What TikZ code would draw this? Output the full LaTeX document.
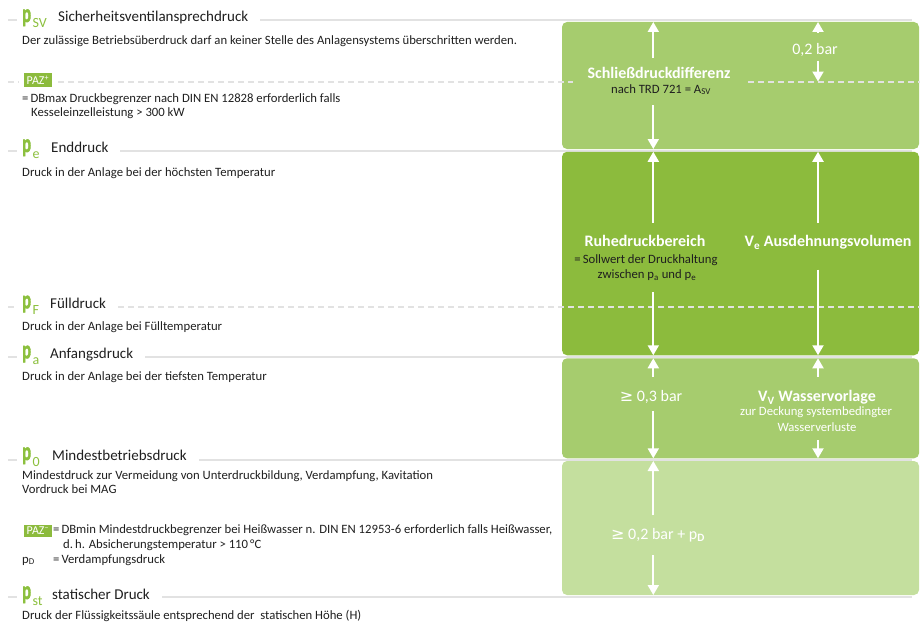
\documentclass[tikz,border=0pt]{standalone}
\usepackage{fontspec}
\setmainfont{Carlito}
\newfontfamily\zeichenfont{DejaVu Sans}
\newfontfamily\dickfont[FakeBold=2]{Carlito}
\usepackage{graphicx}
\usetikzlibrary{arrows.meta,positioning}

\definecolor{gruenHell}{HTML}{A6CC6E}
\definecolor{gruenDunkel}{HTML}{8CBB3D}
\definecolor{gruenBlass}{HTML}{C4DF9E}
\definecolor{gruenSym}{HTML}{8CC03E}
\definecolor{grau}{HTML}{E2E2E2}
\definecolor{schrift}{HTML}{1F1F1F}

\newcommand{\druckp}[1]{\textcolor{gruenSym}{\scalebox{0.65}[1]{\fontsize{25.5}{25.5}\dickfont\bfseries p}\kern1.5pt\raisebox{-6pt}{\fontsize{14}{14}\selectfont #1}}}
\newcommand{\pazbox}[1]{{\setlength{\fboxsep}{2.5pt}\colorbox{gruenDunkel}{\textcolor{white}{\fontsize{12}{12}\selectfont PAZ\textsuperscript{#1}}}}}

\tikzset{
  kasten/.style={rectangle, rounded corners=5pt, inner sep=0pt, outer sep=0pt, minimum width=357pt},
  linie/.style={draw=grau, line width=2pt},
  strich/.style={linie, dash pattern=on 6pt off 4pt},
  stufe/.style={fill=white, anchor=base west, inner xsep=5pt, inner ysep=3pt, text=schrift, font=\fontsize{15}{17}\selectfont},
  txt/.style={anchor=base west, inner sep=0pt, text=schrift, font=\fontsize{12.7}{14}\selectfont},
  klein/.style={anchor=base, inner sep=0pt, text=schrift, font=\fontsize{12.7}{14}\selectfont},
  kleinweiss/.style={klein, text=white},
  wert/.style={anchor=base, inner sep=0pt, text=white, font=\fontsize{16}{18}\selectfont},
  titel/.style={wert, font=\fontsize{16}{18}\selectfont\bfseries},
  pfeil/.style={draw=white, line width=2pt, -{Triangle[width=11pt,length=10pt]}}
}

\begin{document}
\begin{tikzpicture}[x=1pt, y=-1pt]
  \useasboundingbox (0,0) rectangle (920,626);
  \coordinate (xl) at (653.3,0);
  \coordinate (xr) at (818,0);
  \coordinate (paz) at (0,81.5);

  % Linien der Druckstufen
  \draw[linie] (8,20.5) -- (912,20.5);
  \draw[linie] (8,150.5) -- (912,150.5);
  \draw[linie] (8,356.8) -- (912,356.8);
  \draw[linie] (8,459.7) -- (912,459.7);
  \draw[linie] (8,596.5) -- (912,596.5);

  % Kaesten rechts
  \node[kasten, fill=gruenHell, minimum height=127pt] (k1) at (740.5,85.5) {};
  \node[kasten, fill=gruenDunkel, minimum height=203.5pt] (k2) at (740.5,253.5) {};
  \node[kasten, fill=gruenHell, minimum height=100pt] (k3) at (740.5,408.3) {};
  \node[kasten, fill=gruenBlass, minimum height=134pt] (k4) at (740.5,528) {};

  % gestrichelte Linien
  \draw[strich] (8,81.5) -- (920,81.5);
  \draw[strich] (8,306.7) -- (920,306.7);

  % Druckstufen links
  \node[stufe] (sv) at (17,22) {\makebox[36pt][l]{\druckp{SV}}Sicherheitsventilansprechdruck\kern7pt};
  \node[txt] (svtxt) at (22,44.5) {Der zulässige Betriebsüberdruck darf an keiner Stelle des Anlagensystems überschritten werden.};
  \node[fill=white, inner xsep=5pt, inner ysep=2pt, anchor=west] (pazp) at (19,80) {\pazbox{+}};
  \node[txt] (dbmax) at (22,102) {=\kern2pt DBmax Druckbegrenzer nach DIN EN 12828 erforderlich falls};
  \node[txt] (kessel) at (31,116.5) {Kesseleinzelleistung > 300 kW};

  \node[stufe] (pe) at (17,152) {\makebox[29pt][l]{\druckp{e}}Enddruck\kern7pt};
  \node[txt] (petxt) at (22,176.5) {Druck in der Anlage bei der höchsten Temperatur};

  \node[stufe] (pf) at (17,308.3) {\makebox[28pt][l]{\druckp{F}}Fülldruck\kern7pt};
  \node[txt] (pftxt) at (22,330) {Druck in der Anlage bei Fülltemperatur};

  \node[stufe] (pa) at (17,358.3) {\makebox[28pt][l]{\druckp{a}}Anfangsdruck\kern7pt};
  \node[txt] (patxt) at (22,380.5) {Druck in der Anlage bei der tiefsten Temperatur};

  \node[stufe] (p0) at (17,460) {\makebox[30pt][l]{\druckp{0}}Mindestbetriebsdruck\kern7pt};
  \node[txt] (p0txt) at (22,479.5) {Mindestdruck zur Vermeidung von Unterdruckbildung, Verdampfung, Kavitation};
  \node[txt] (mag) at (22,493.5) {Vordruck bei MAG};
  \node[anchor=west, inner sep=0pt] (pazm) at (24,531) {\pazbox{–}};
  \node[txt] (dbmin) at (53,533.3) {=\kern2pt DBmin Mindestdruckbegrenzer bei Heißwasser n. DIN EN 12953-6 erforderlich falls Heißwasser,};
  \node[txt] (absich) at (63,548) {d.\,h. Absicherungstemperatur > 110\,°C};
  \node[txt] (pd) at (22,563) {p\textsubscript{D}};
  \node[txt] (verd) at (53,563) {=\kern2pt Verdampfungsdruck};

  \node[stufe] (pst) at (17,599) {\makebox[30pt][l]{\druckp{st}}statischer Druck\kern7pt};
  \node[txt] (psttxt) at (22,619) {Druck der Flüssigkeitssäule entsprechend der\ \ statischen Höhe (H)};

  % Kasten 1
  \node[titel, fill=gruenHell, inner xsep=15pt, text depth=5pt] (schl) at (659,78) {Schließdruckdifferenz};
  \node[klein] (trd) at (661,93) {nach TRD 721 = A\textsubscript{SV}};
  \draw[pfeil, shorten <=9pt] (schl.north -| xl) -- (k1.north -| xl);
  \draw[pfeil, shorten <=10pt] (trd.south -| xl) -- (k1.south -| xl);
  \node[wert] (nul) at (815,55) {0,2 bar};
  \draw[pfeil, shorten <=11pt] (nul.north -| xr) -- (k1.north -| xr);
  \draw[pfeil, shorten <=3.5pt] (nul.south -| xr) -- (paz -| xr);

  % Kasten 2
  \node[titel] (ruhe) at (645,246.7) {Ruhedruckbereich};
  \node[klein] (soll) at (646,263.3) {=\kern2pt Sollwert der Druckhaltung};
  \node[klein] (zw) at (647,278.3) {zwischen p\textsubscript{a} und p\textsubscript{e}};
  \draw[pfeil, shorten <=12.5pt] (ruhe.north -| xl) -- (k2.north -| xl);
  \draw[pfeil, shorten <=11.5pt] (zw.south -| xl) -- (k2.south -| xl);
  \node[titel] (ve) at (828,246.7) {V\textsubscript{e} Ausdehnungsvolumen};
  \draw[pfeil, shorten <=12.5pt] (ve.north -| xr) -- (k2.north -| xr);
  \draw[pfeil, shorten <=20pt] (ve.south -| xr) -- (k2.south -| xr);

  % Kasten 3
  \node[wert] (dr3) at (651,401.7) {{\zeichenfont ≥} 0,3 bar};
  \draw[pfeil, shorten <=13.5pt] (dr3.north -| xl) -- (k3.north -| xl);
  \draw[pfeil, shorten <=7pt] (dr3.south -| xl) -- (k3.south -| xl);
  \node[titel] (vv) at (817,401.7) {V\textsubscript{V} Wasservorlage};
  \node[kleinweiss] (deck) at (816,415.7) {zur Deckung systembedingter};
  \node[kleinweiss] (verl) at (817,431) {Wasserverluste};
  \draw[pfeil, shorten <=13.5pt] (vv.north -| xr) -- (k3.north -| xr);
  \draw[pfeil, shorten <=9pt] (verl.south -| xr) -- (k3.south -| xr);

  % Kasten 4
  \node[wert] (dr4) at (658,539.3) {{\zeichenfont ≥} 0,2 bar + p\textsubscript{\textbf{D}}};
  \draw[pfeil, shorten <=12.5pt] (dr4.north -| xl) -- (k4.north -| xl);
  \draw[pfeil, shorten <=13pt] (dr4.south -| xl) -- (k4.south -| xl);
\end{tikzpicture}
\end{document}
